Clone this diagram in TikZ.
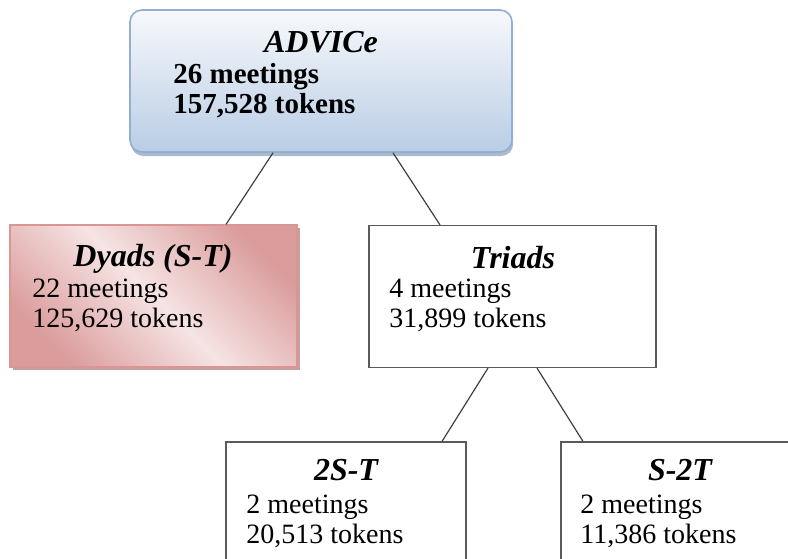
\documentclass[tikz,border=0pt]{standalone}
\usepackage{fontspec}
\setmainfont{Liberation Serif}
\usepackage{tikz}
\usetikzlibrary{calc,shadows}

\definecolor{advtop}{HTML}{F7F9FC}
\definecolor{advbot}{HTML}{B9CDE5}
\definecolor{advline}{HTML}{93AED3}
\definecolor{advshadow}{HTML}{8A9DB8}
\definecolor{dydark}{HTML}{DB9C9C}
\definecolor{dylight}{HTML}{F6E4E4}
\definecolor{dyline}{HTML}{D99694}
\definecolor{dyshadow}{HTML}{B98585}
\definecolor{boxgray}{HTML}{5A5A5A}

\begin{document}
\begin{tikzpicture}[
    x=0.5pt, y=-0.5pt,
    rootblock/.style={draw=advline, line width=0.8pt, rounded corners=6pt,
      top color=advtop, bottom color=advbot,
      minimum width=191pt, minimum height=71pt, inner sep=0pt,
      drop shadow={shadow xshift=0.6pt, shadow yshift=-2pt, fill=advshadow, opacity=0.7}},
    pinkblock/.style={draw=dyline, line width=0.6pt,
      left color=dydark, right color=dydark, middle color=dylight, shading angle=135,
      minimum width=143.5pt, minimum height=71pt, inner sep=0pt,
      drop shadow={shadow xshift=1.5pt, shadow yshift=-1.5pt, fill=dyshadow, opacity=0.8}},
    block/.style={draw=boxgray, line width=0.6pt, fill=white, minimum height=71pt, inner sep=0pt},
    title/.style={anchor=base, inner sep=0pt, font=\fontsize{16}{19}\selectfont\bfseries\itshape},
    info/.style={anchor=base west, inner sep=0pt, align=left, font=\fontsize{14}{15}\selectfont},
    link/.style={draw=black!75, line width=0.6pt}
]
  \clip (0,0) rectangle (788,558);

  % radice
  \node[rootblock] (advice) at (321,81) {};
  \node[title] (adviceT) at (321,52) {ADVICe};
  \node[info, font=\fontsize{14.5}{15}\selectfont\bfseries] (adviceI) at (173,113) {26 meetings\\157,528 tokens};

  % diadi
  \node[pinkblock] (dyads) at (153.5,296) {};
  \node[title] (dyadsT) at (153,266) {Dyads (S-T)};
  \node[info] (dyadsI) at (32,327) {22 meetings\\125,629 tokens};

  % triadi
  \node[block, minimum width=143.5pt] (triads) at (512.5,296.5) {};
  \node[title] (triadsT) at (513,268) {Triads};
  \node[info] (triadsI) at (389,327) {4 meetings\\31,899 tokens};

  % figli delle triadi
  \node[block, minimum width=120pt] (twoS) at (346,513) {};
  \node[title] (twoST) at (346,480) {2S-T};
  \node[info] (twoSI) at (246,543) {2 meetings\\20,513 tokens};

  \node[block, minimum width=120pt] (twoT) at (681,513) {};
  \node[title] (twoTT) at (680,480) {S-2T};
  \node[info] (twoTI) at (580,543) {2 meetings\\11,386 tokens};

  % rami
  \draw[link] ($(advice.south)+(-48,0)$) -- ($(dyads.north)+(72.5,0)$);
  \draw[link] ($(advice.south)+(72,0)$) -- ($(triads.north)+(-72.5,0)$);
  \draw[link] ($(triads.south)+(-24.5,0)$) -- ($(twoS.north)+(96,0)$);
  \draw[link] ($(triads.south)+(24.5,0)$) -- ($(twoT.north)+(-98,0)$);

\end{tikzpicture}
\end{document}
